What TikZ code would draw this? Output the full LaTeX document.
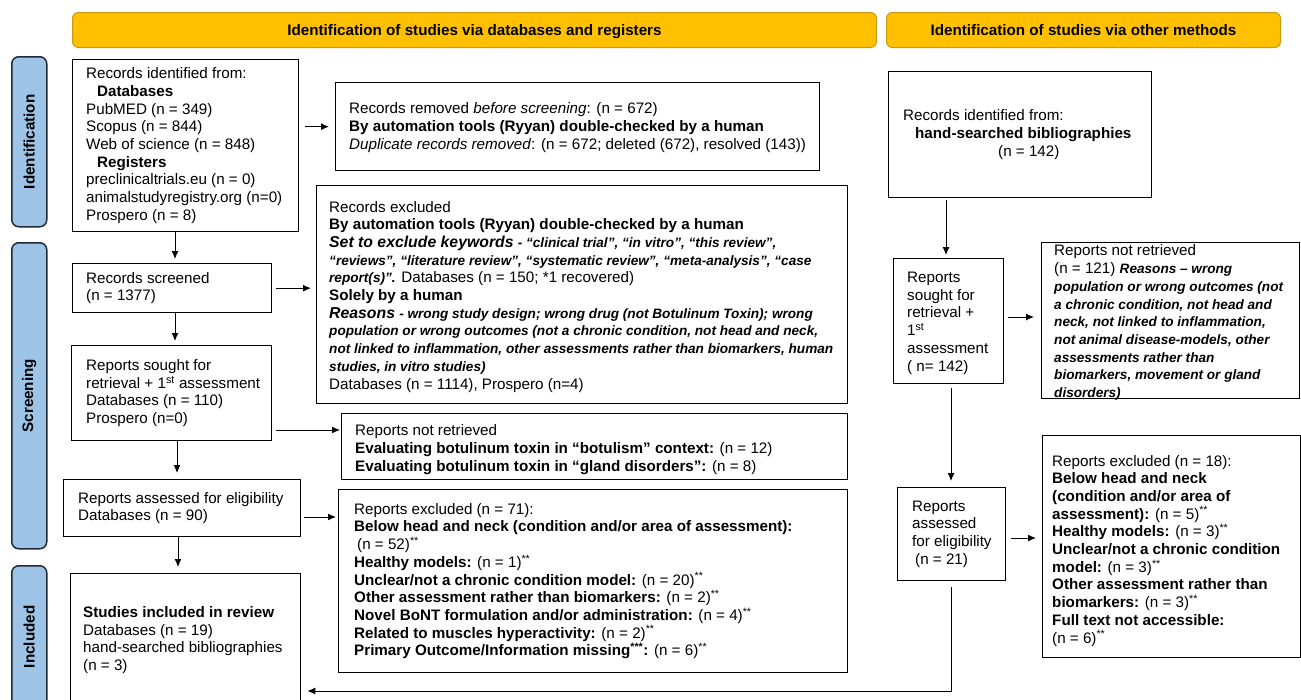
\documentclass[tikz,border=0pt]{standalone}
\usepackage{fontspec}
\setmainfont{Liberation Sans}
\usetikzlibrary{arrows.meta,calc}
\definecolor{bannerY}{HTML}{FFC000}
\definecolor{bannerD}{HTML}{C99A10}
\definecolor{sideB}{HTML}{9DC3E6}
\definecolor{sideD}{HTML}{1F2A36}
\newcommand{\smbi}[1]{{\fontsize{13.6}{17.7}\selectfont\bfseries\itshape #1}}
\newcommand{\bgbi}[1]{{\fontsize{15.8}{17.7}\selectfont\bfseries\itshape #1}}
\newcommand{\sst}{\textsuperscript{**}}
\begin{document}
\begin{tikzpicture}[x=1pt,y=-1pt,
  box/.style={draw=black,line width=1.3pt,anchor=north west,inner sep=0pt},
  txt/.style={anchor=west,align=left,inner sep=0pt,font=\fontsize{15.2}{17.7}\selectfont},
  arr/.style={-{Latex[length=8pt,width=7pt]},line width=1pt},
  banner/.style={draw=bannerD,fill=bannerY,rounded corners=6pt,line width=1pt,anchor=north west,inner sep=0pt,font=\bfseries\fontsize{15.2}{17}\selectfont},
  side/.style={draw=sideD,fill=sideB,rounded corners=7pt,line width=1.5pt,anchor=north west,inner sep=0pt},
  sidetxt/.style={rotate=90,font=\bfseries\fontsize{15.2}{17}\selectfont,inner sep=0pt}
]
\path[use as bounding box,clip] (0,0) rectangle (1301,699);

% banners
\node[banner,minimum width=804pt,minimum height=35pt,text depth=1pt] (ban1) at (72,12) {Identification of studies via databases and registers};
\node[banner,minimum width=394pt,minimum height=35pt,text depth=1pt] (ban2) at (886,12) {Identification of studies via other methods};

% side labels
\node[side,minimum width=35pt,minimum height=170pt] (sId) at (11,56) {};
\node[sidetxt] (sIdT) at (sId.center) {Identification};
\node[side,minimum width=35pt,minimum height=306pt] (sSc) at (11,242) {};
\node[sidetxt] (sScT) at (sSc.center) {Screening};
\node[side,minimum width=35pt,minimum height=142pt] (sIn) at (11,565) {};
\node[sidetxt] (sInT) at (sIn.center) {Included};

% boxes
\node[box,minimum width=226pt,minimum height=172pt] (A) at (72,59) {};
\node[box,minimum width=484pt,minimum height=88pt] (B) at (335,82) {};
\node[box,minimum width=531pt,minimum height=218pt] (C) at (316,185) {};
\node[box,minimum width=199pt,minimum height=49pt] (D) at (72,263) {};
\node[box,minimum width=200pt,minimum height=95pt] (E) at (71,345) {};
\node[box,minimum width=506pt,minimum height=66pt] (F) at (341,413) {};
\node[box,minimum width=237pt,minimum height=57pt] (G) at (63,479) {};
\node[box,minimum width=509pt,minimum height=183pt] (H) at (338,489) {};
\node[box,minimum width=230pt,minimum height=134pt] (I) at (70,573) {};
\node[box,minimum width=263pt,minimum height=126pt] (J) at (888,71) {};
\node[box,minimum width=110pt,minimum height=125pt] (K) at (893,258) {};
\node[box,minimum width=258pt,minimum height=156pt] (L) at (1041,242) {};
\node[box,minimum width=108pt,minimum height=93pt] (M) at (897,487) {};
\node[box,minimum width=258pt,minimum height=222pt] (N) at (1042,435) {};

% texts
\node[txt] (At) at ([xshift=14pt]A.west) {Records identified from:\\
\hspace*{11pt}\textbf{Databases}\\
PubMED (n = 349)\\
Scopus (n = 844)\\
Web of science (n = 848)\\
\hspace*{11pt}\textbf{Registers}\\
preclinicaltrials.eu (n = 0)\\
animalstudyregistry.org (n=0)\\
Prospero (n = 8)};

\node[txt] (Bt) at ([xshift=14pt,yshift=-1pt]B.west) {Records removed \textit{before screening}: (n = 672)\\
\textbf{By automation tools (Ryyan) double-checked by a human}\\
\textit{Duplicate records removed}: (n = 672; deleted (672), resolved (143))};

\node[txt] (Ct) at ([xshift=13pt,yshift=-2pt]C.west) {Records excluded\\
\textbf{By automation tools (Ryyan) double-checked by a human}\\
\bgbi{Set to exclude keywords} \smbi{- “clinical trial”, “in vitro”, “this review”,}\\
\smbi{“reviews”, “literature review”, “systematic review”, “meta-analysis”, “case}\\
\smbi{report(s)”.} Databases (n = 150; *1 recovered)\\
\textbf{Solely by a human}\\
\bgbi{Reasons} \smbi{- wrong study design; wrong drug (not Botulinum Toxin); wrong}\\
\smbi{population or wrong outcomes (not a chronic condition, not head and neck,}\\
\smbi{not linked to inflammation, other assessments rather than biomarkers, human}\\
\smbi{studies, in vitro studies)}\\
Databases (n = 1114), Prospero (n=4)};

\node[txt] (Dt) at ([xshift=14pt]D.west) {Records screened\\(n = 1377)};

\node[txt] (Et) at ([xshift=15pt]E.west) {Reports sought for\\
retrieval + 1\textsuperscript{st} assessment\\
Databases (n = 110)\\
Prospero (n=0)};

\node[txt] (Ft) at ([xshift=14pt,yshift=-3pt]F.west) {Reports not retrieved\\
\textbf{Evaluating botulinum toxin in “botulism” context:} (n = 12)\\
\textbf{Evaluating botulinum toxin in “gland disorders”:} (n = 8)};

\node[txt] (Gt) at ([xshift=15pt]G.west) {Reports assessed for eligibility\\Databases (n = 90)};

\node[txt] (Ht) at ([xshift=16pt]H.west) {Reports excluded (n = 71):\\
\textbf{Below head and neck (condition and/or area of assessment):}\\
\hspace*{3pt}(n = 52)\sst\\
\textbf{Healthy models:} (n = 1)\sst\\
\textbf{Unclear/not a chronic condition model:} (n = 20)\sst\\
\textbf{Other assessment rather than biomarkers:} (n = 2)\sst\\
\textbf{Novel BoNT formulation and/or administration:} (n = 4)\sst\\
\textbf{Related to muscles hyperactivity:} (n = 2)\sst\\
\textbf{Primary Outcome/Information missing\textsuperscript{***}:} (n = 6)\sst};

\node[txt] (It) at ([xshift=13pt,yshift=-67pt]I.north west) {\textbf{Studies included in review}\\
Databases (n = 19)\\
hand-searched bibliographies\\
(n = 3)};

\node[txt] (Jt) at ([xshift=15pt]J.west) {Records identified from:\\
\hspace*{12pt}\textbf{hand-searched bibliographies}\\
\hspace*{95pt}(n = 142)};

\node[txt] (Kt) at ([xshift=14pt,yshift=-2pt]K.west) {Reports\\sought for\\retrieval +\\1\textsuperscript{st}\\assessment\\( n= 142)};

\node[txt] (Lt) at ([xshift=13pt,yshift=-2pt]L.west) {Reports not retrieved\\
(n = 121) \smbi{Reasons – wrong}\\
\smbi{population or wrong outcomes (not}\\
\smbi{a chronic condition, not head and}\\
\smbi{neck, not linked to inflammation,}\\
\smbi{not animal disease-models, other}\\
\smbi{assessments rather than}\\
\smbi{biomarkers, movement or gland}\\
\smbi{disorders)}};

\node[txt] (Mt) at ([xshift=15pt]M.west) {Reports\\assessed\\for eligibility\\\hspace*{3pt}(n = 21)};

\node[txt] (Nt) at ([xshift=10pt,yshift=-4pt]N.west) {Reports excluded (n = 18):\\
\textbf{Below head and neck}\\
\textbf{(condition and/or area of}\\
\textbf{assessment):} (n = 5)\sst\\
\textbf{Healthy models:} (n = 3)\sst\\
\textbf{Unclear/not a chronic condition}\\
\textbf{model:} (n = 3)\sst\\
\textbf{Other assessment rather than}\\
\textbf{biomarkers:} (n = 3)\sst\\
\textbf{Full text not accessible:}\\
(n = 6)\sst};

% connectors
\coordinate (xL) at (175,0);
\coordinate (xL2) at (177,0);
\coordinate (xL3) at (178,0);
\coordinate (xR) at (946,0);
\coordinate (xR2) at (951,0);
\coordinate (yEF) at (0,430);
\coordinate (yGH) at (0,517);
\coordinate (yKL) at (0,317);
\coordinate (yMN) at (0,538);
\coordinate (yMI) at (0,691);

\draw[arr,shorten <=6pt,shorten >=6pt] (A.east |- B.west) -- (B.west);
\draw[arr,shorten >=4pt] (A.south -| xL) -- (D.north -| xL);
\draw[arr,shorten <=4pt,shorten >=5pt] (D.east) -- (D.east -| C.west);
\draw[arr,shorten >=4pt] (D.south -| xL) -- (E.north -| xL);
\draw[arr,shorten <=4pt,shorten >=1pt] (E.east |- yEF) -- (F.west |- yEF);
\draw[arr,shorten >=6pt] (E.south -| xL2) -- (G.north -| xL2);
\draw[arr,shorten <=3pt,shorten >=2pt] (G.east |- yGH) -- (H.west |- yGH);
\draw[arr,shorten >=6pt] (G.south -| xL3) -- (I.north -| xL3);
\draw[arr,shorten <=2pt,shorten >=3pt] (J.south -| xR) -- (K.north -| xR);
\draw[arr,shorten <=4pt,shorten >=7pt] (K.east |- yKL) -- (L.west |- yKL);
\draw[arr,shorten <=4pt,shorten >=6pt] (K.south -| xR2) -- (M.north -| xR2);
\draw[arr,shorten <=5pt,shorten >=6pt] (M.east |- yMN) -- (N.west |- yMN);
\draw[arr,shorten <=6pt,shorten >=6pt] (M.south -| xR2) -- (xR2 |- yMI) -- (I.east |- yMI);
\end{tikzpicture}
\end{document}
